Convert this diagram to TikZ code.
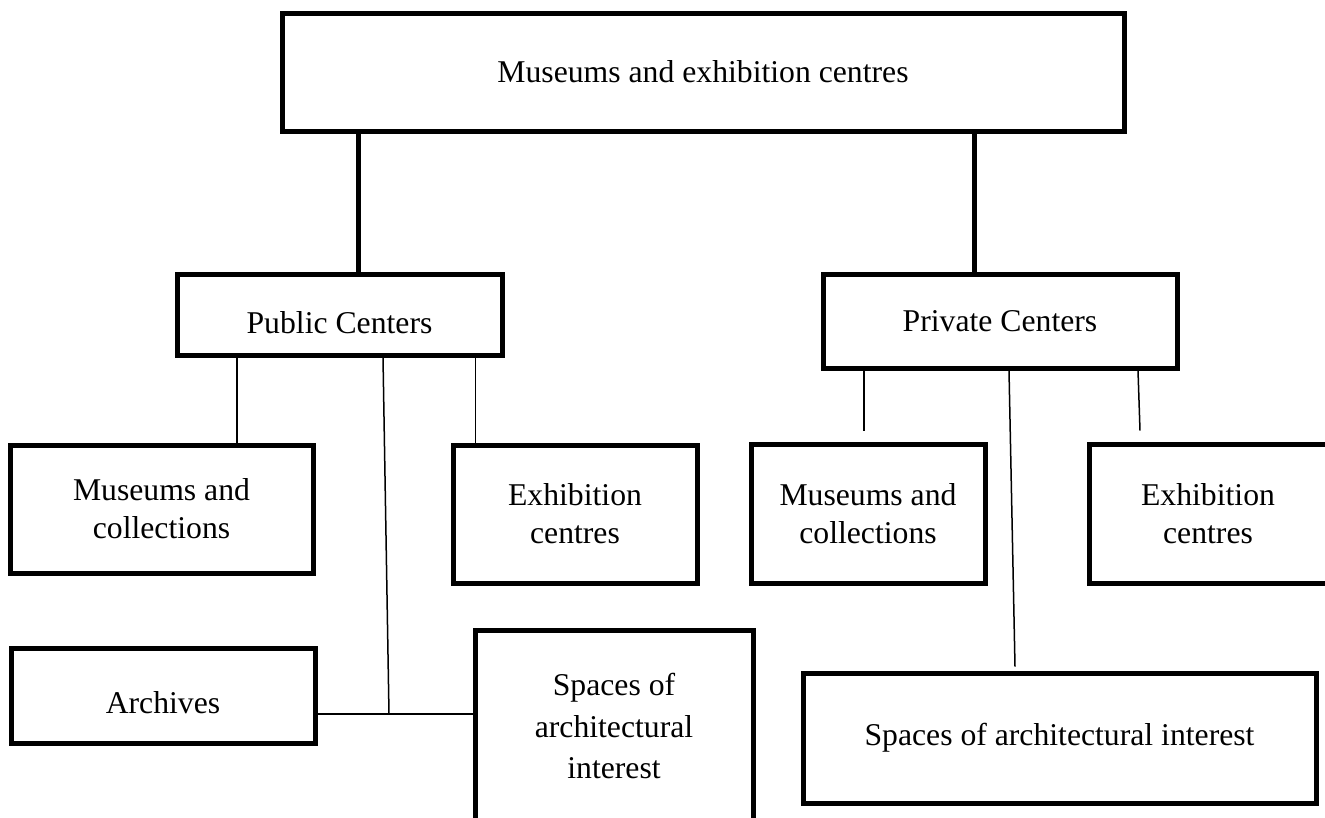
\documentclass[tikz,border=0pt]{standalone}
\usepackage{fontspec}
\setmainfont{Liberation Serif}
\begin{document}
\begin{tikzpicture}[x=1pt,y=-1pt,
  box/.style={draw=black, line width=5pt, inner sep=0pt, align=center,
    font=\fontsize{31.7}{38}\selectfont},
  thickconn/.style={line width=5pt},
  thinconn/.style={line width=1.5pt}]
\useasboundingbox (0,0) rectangle (1325,817);
\clip (0,0) rectangle (1325,817);
% nodes
\node[box, minimum width=842pt, minimum height=118pt] (top) at (703,72) {Museums and exhibition centres};
\node[box, minimum width=325pt, minimum height=81pt, text height=37pt, text depth=0pt] (pub) at (339.5,314.5) {Public Centers};
\node[box, minimum width=354pt, minimum height=94pt] (priv) at (1000,321) {Private Centers};
\node[box, minimum width=303pt, minimum height=128pt] (pmc) at (161.5,509) {Museums and\\collections};
\node[box, minimum width=244pt, minimum height=138pt] (pex) at (575,514) {Exhibition\\centres};
\node[box, minimum width=234pt, minimum height=139pt] (rmc) at (868,513.5) {Museums and\\collections};
\node[box, minimum width=238pt, minimum height=139pt] (rex) at (1208,513.5) {Exhibition\\centres};
\node[box, minimum width=304pt, minimum height=95pt, text height=35pt, text depth=0pt] (arch) at (163,695.5) {Archives};
\node[box, minimum width=278pt, minimum height=192pt, font=\fontsize{31.7}{41.5}\selectfont] (psp) at (614,726) {Spaces of\\architectural\\interest};
\node[box, minimum width=513pt, minimum height=130pt] (rsp) at (1059.5,738) {Spaces of architectural interest};
\coordinate (j) at (389,714);
% connectors
\draw[thickconn] ([xshift=-345pt]top.south) -- ([xshift=18.5pt]pub.north);
\draw[thickconn] ([xshift=271pt]top.south) -- ([xshift=-26pt]priv.north);
\draw[thinconn] ([xshift=-102.5pt]pub.south) -- ([xshift=75.5pt]pmc.north);
\draw[thinconn] ([xshift=136pt]pub.south) -- ([xshift=-99.5pt]pex.north);
\draw[thinconn] ([xshift=43.5pt]pub.south) -- (j);
\draw[thinconn] (arch.east |- j) -- (psp.west |- j);
\draw[thinconn] ([xshift=-136pt]priv.south) -- ([xshift=-4pt,yshift=11pt]rmc.north);
\draw[thinconn] ([xshift=9pt]priv.south) -- ([xshift=-44.5pt,yshift=4pt]rsp.north);
\draw[thinconn] ([xshift=138pt]priv.south) -- ([xshift=-68pt,yshift=11pt]rex.north);
\end{tikzpicture}
\end{document}
